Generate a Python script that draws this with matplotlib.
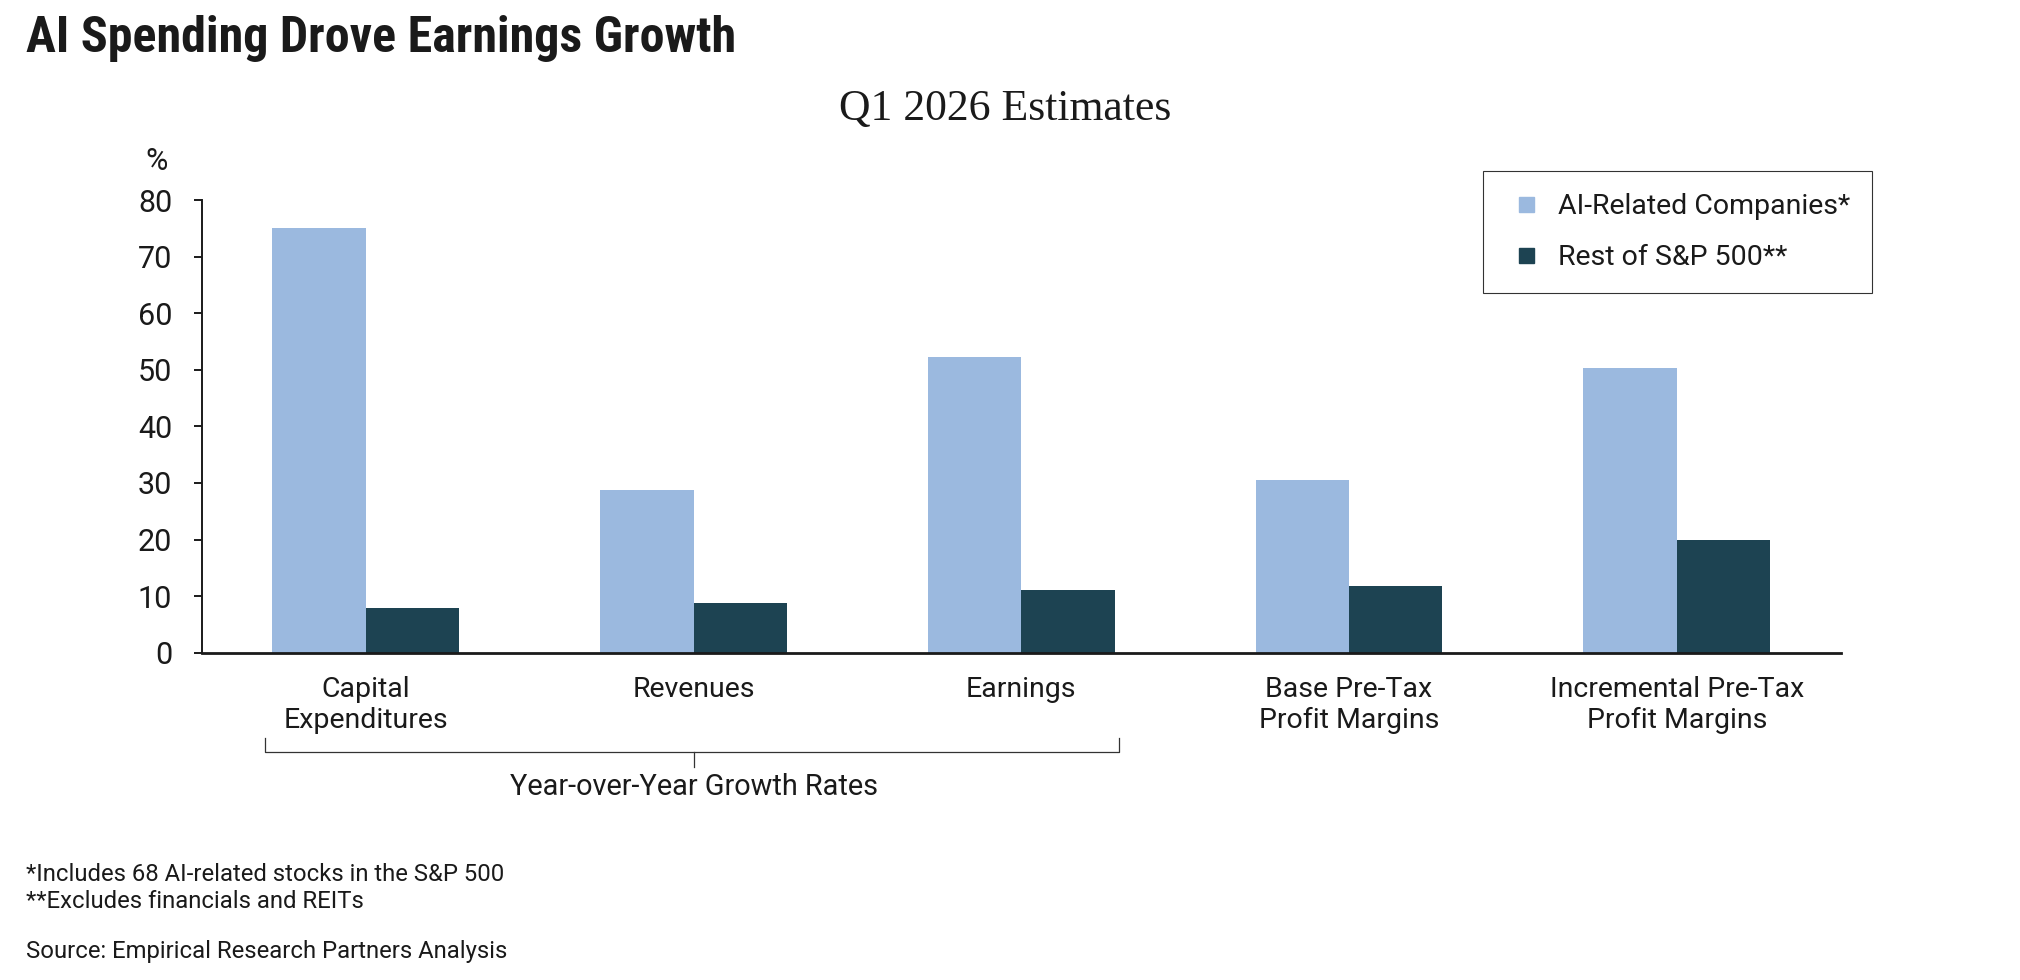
import matplotlib
matplotlib.use("Agg")
import matplotlib.pyplot as plt
import matplotlib.transforms as mtransforms
from matplotlib import font_manager
from matplotlib.lines import Line2D
import numpy as np

# chart data
categories = ["Capital\nExpenditures", "Revenues", "Earnings",
              "Base Pre-Tax\nProfit Margins", "Incremental Pre-Tax\nProfit Margins"]
ai_related = [75.1, 28.8, 52.3, 30.5, 50.4]
rest_sp500 = [7.9, 8.7, 11.1, 11.7, 20.0]
series_names = ["AI-Related Companies*", "Rest of S&P 500**"]
y_ticks = [0, 10, 20, 30, 40, 50, 60, 70, 80]
bracket_label = "Year-over-Year Growth Rates"
footnotes = ["*Includes 68 AI-related stocks in the S&P 500",
             "**Excludes financials and REITs"]
source = "Source: Empirical Research Partners Analysis"

LIGHT = "#9BB9DF"
DARK = "#1D4352"
INK = "#1a1a1a"

plt.rcParams['font.family'] = ['Roboto', 'DejaVu Sans']
plt.rcParams['text.color'] = INK

# narrow face for the headline if one is around, else plain Roboto a bit smaller
title_family, title_size = ['Roboto', 'DejaVu Sans'], 31
for fam in ['Roboto Condensed', 'Liberation Sans Narrow', 'Open Sans Condensed']:
    try:
        font_manager.findfont(font_manager.FontProperties(family=fam),
                              fallback_to_default=False)
        title_family, title_size = [fam, 'DejaVu Sans'], 36
        break
    except ValueError:
        pass

fig = plt.figure(figsize=(20.2, 9.8), dpi=100)
ax = fig.add_axes([0.1, 0.334, 0.8112, 0.4619])

x = np.arange(len(categories))
w = 0.285
ax.bar(x - w / 2, ai_related, w, color=LIGHT)
ax.bar(x + w / 2, rest_sp500, w, color=DARK)

ax.set_xlim(-0.5, 4.5)
ax.set_ylim(0, 80)
ax.set_yticks(y_ticks)
ax.tick_params(axis='y', length=6, width=1.4, pad=15.5, labelsize=22,
               colors=INK)
ax.set_xticks(x)
ax.set_xticklabels(categories, fontsize=20.5, linespacing=1.22)
ax.tick_params(axis='x', length=0, pad=16.5, colors=INK)
for s in ['top', 'right']:
    ax.spines[s].set_visible(False)
ax.spines['left'].set_linewidth(1.4)
ax.spines['bottom'].set_linewidth(2.0)
ax.spines['left'].set_color(INK)
ax.spines['bottom'].set_color(INK)

# bracket under the first three groups
trans = mtransforms.blended_transform_factory(ax.transData, ax.transAxes)
xl, xr, xc = -0.307, 2.297, 1.0
y_top, y_mid, y_low = -0.189, -0.220, -0.252
ax.plot([xl, xl, xr, xr], [y_top, y_mid, y_mid, y_top], transform=trans,
        color='#333333', lw=0.9, clip_on=False, solid_joinstyle='round')
ax.plot([xc, xc], [y_mid, y_low], transform=trans, color='#333333', lw=0.9,
        clip_on=False)
ax.text(xc, -0.314, bracket_label, transform=trans, ha='center',
        va='baseline', fontsize=20.8)

# legend
handles = [Line2D([], [], marker='s', linestyle='none', markersize=10.8,
                  markerfacecolor=LIGHT, markeredgecolor=LIGHT),
           Line2D([], [], marker='s', linestyle='none', markersize=10.8,
                  markerfacecolor=DARK, markeredgecolor=DARK)]
leg = ax.legend(handles, series_names, loc='upper left',
                bbox_to_anchor=(0.7343, 0.8258),
                bbox_transform=fig.transFigure, borderaxespad=0,
                frameon=True, fancybox=False, edgecolor='black',
                fontsize=20.5, borderpad=0.78, labelspacing=0.83,
                handlelength=1.45, handletextpad=0.39)
leg.get_frame().set_linewidth(0.8)

# titles
fig.text(0.0129, 0.9474, "AI Spending Drove Earnings Growth",
         fontsize=title_size, fontweight='bold', va='baseline',
         family=title_family)
fig.text(0.4978, 0.8776, "Q1 2026 Estimates", ha='center', va='baseline',
         fontsize=31.5, family=['Liberation Serif', 'DejaVu Serif'])
fig.text(0.0832, 1 - 161 / 980, "%", ha='right', va='center', fontsize=22)

# notes
fig.text(0.0129, 1 - 874.5 / 980, footnotes[0], va='center', fontsize=17.2)
fig.text(0.0129, 1 - 901.5 / 980, footnotes[1], va='center', fontsize=17.2)
fig.text(0.0129, 1 - 951.5 / 980, source, va='center', fontsize=17.2)

fig.savefig("out.png", dpi=100)
